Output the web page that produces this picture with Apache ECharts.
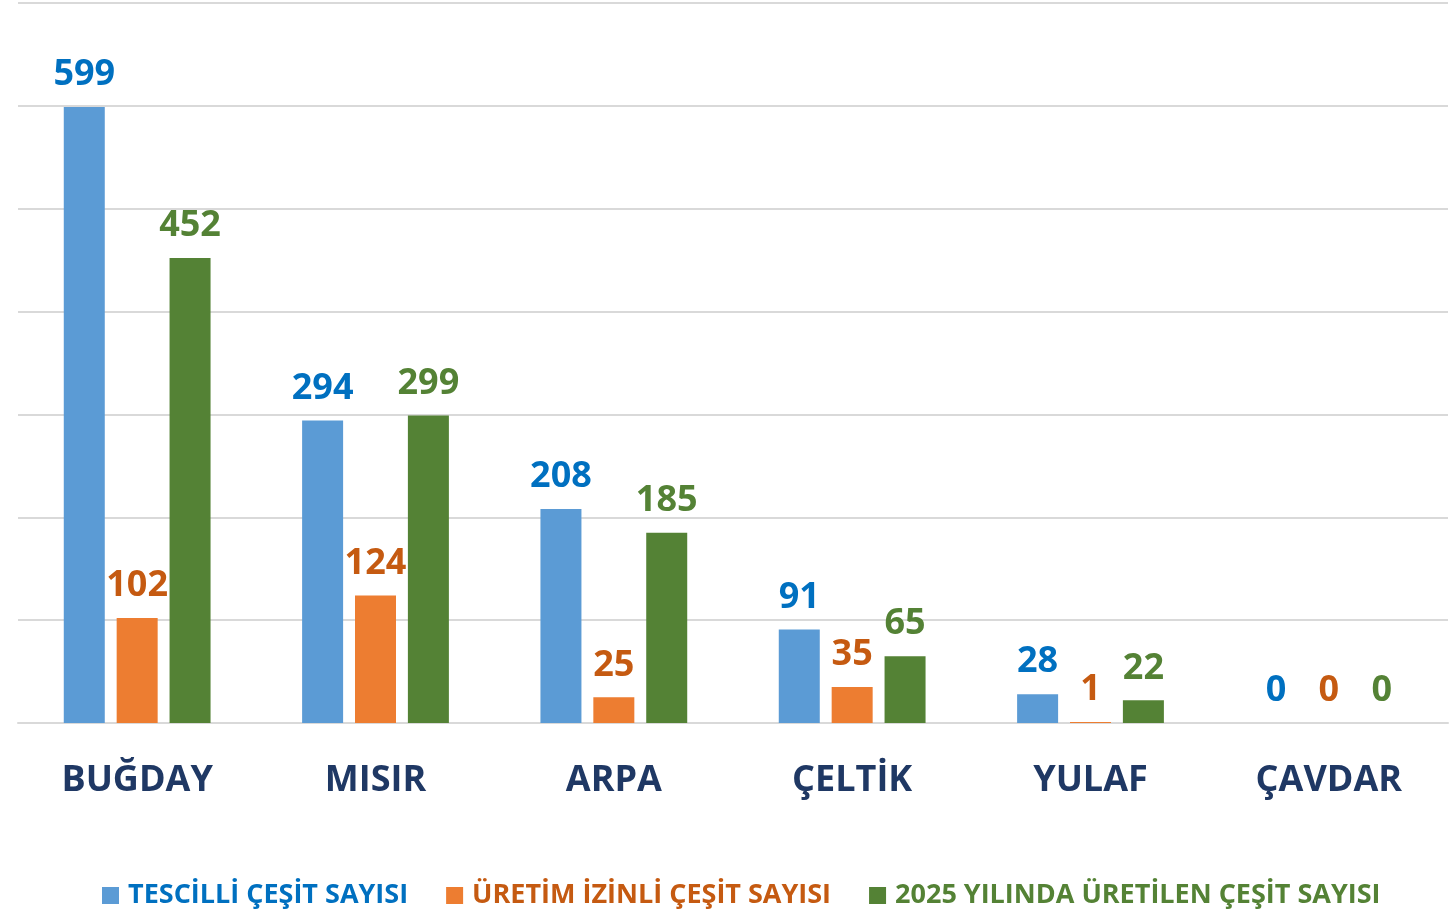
<!DOCTYPE html>
<html>
<head>
<meta charset="utf-8">
<script src="https://cdn.jsdelivr.net/npm/echarts@6/dist/echarts.min.js"></script>
<style>
    html, body { margin: 0; padding: 0; background: #fff; }
    #main { width: 1455px; height: 912px; }
</style>
</head>
<body>
<div id="main"></div>
<script>
var categories = ['BUĞDAY', 'MISIR', 'ARPA', 'ÇELTİK', 'YULAF', 'ÇAVDAR'];
var seriesNames = ['TESCİLLİ ÇEŞİT SAYISI', 'ÜRETİM İZİNLİ ÇEŞİT SAYISI', '2025 YILINDA ÜRETİLEN ÇEŞİT SAYISI'];
var tescilli = [599, 294, 208, 91, 28, 0];
var uretimIzinli = [102, 124, 25, 35, 1, 0];
var uretilen2025 = [452, 299, 185, 65, 22, 0];

var barColors = ['#5b9bd5', '#ed7d31', '#548235'];
var textColors = ['#0070c0', '#c55a11', '#548235'];
var font = '"Open Sans", sans-serif';

function makeSeries(name, data, i) {
    return {
        name: name,
        type: 'bar',
        data: data,
        barWidth: 41,
        barGap: '29%',
        itemStyle: { color: barColors[i] },
        label: {
            show: true,
            position: 'top',
            distance: 14,
            color: textColors[i],
            fontFamily: font,
            fontWeight: 'bold',
            fontSize: 36
        }
    };
}

var chart = echarts.init(document.getElementById('main'));
var opt = {
    animation: false,
    grid: { left: 18, right: 7, top: 3, bottom: 189, containLabel: false },
    legend: {
        top: 877,
        left: 97,
        itemWidth: 17,
        itemHeight: 17,
        itemGap: 38,
        icon: 'rect',
        textStyle: { fontFamily: font, fontWeight: 'bold', fontSize: 27, padding: [0, 0, 0, 4] },
        data: seriesNames.map(function (n, i) {
            return { name: n, textStyle: { color: textColors[i] } };
        })
    },
    xAxis: {
        type: 'category',
        data: categories,
        axisLine: { lineStyle: { color: '#d9d9d9', width: 2 } },
        axisTick: { show: false },
        axisLabel: {
            margin: 40,
            color: '#1f3864',
            fontFamily: font,
            fontWeight: 'bold',
            fontSize: 36
        }
    },
    yAxis: {
        type: 'value',
        min: 0,
        max: 700,
        interval: 100,
        axisLabel: { show: false },
        axisLine: { show: false },
        axisTick: { show: false },
        splitLine: { lineStyle: { color: '#d9d9d9', width: 2 } }
    },
    series: [
        makeSeries(seriesNames[0], tescilli, 0),
        makeSeries(seriesNames[1], uretimIzinli, 1),
        makeSeries(seriesNames[2], uretilen2025, 2)
    ]
};
chart.setOption(opt);
</script>
</body>
</html>
